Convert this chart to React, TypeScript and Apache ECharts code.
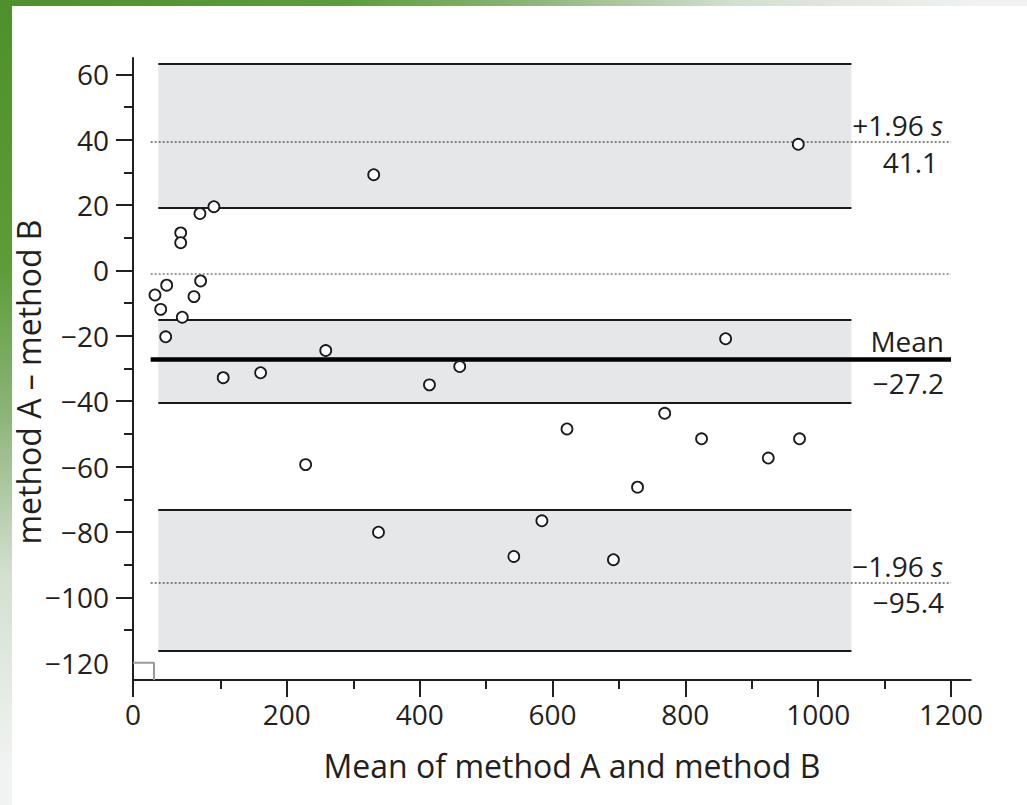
import React, { useEffect, useRef } from "react";
import * as echarts from "echarts";

// ---- data ----
const meanAB = [
  1.5, 19.1, 10.1, 42.6, 17.6, 60.2, 70.2, 40.2, 40.2, 69.2, 90.2, 104.2, 160.5,
  258.6, 330.8, 460.3, 414.7, 860.6, 768.9, 621.8, 824.4, 971.9, 924.8, 228.3,
  728.0, 584.0, 338.0, 541.7, 691.7, 970.0,
];
const diffAB = [
  -7.5, -4.5, -11.9, -14.3, -20.3, -8.0, -3.2, 11.5, 8.5, 17.4, 19.5, -32.8, -31.3,
  -24.5, 29.3, -29.4, -35.0, -20.9, -43.7, -48.5, -51.5, -51.5, -57.4, -59.4,
  -66.3, -76.6, -80.1, -87.5, -88.5, 38.6,
];

// confidence bands (lower, upper) for +1.96s, mean, -1.96s
const bandLower = [19.2, -40.5, -116.5];
const bandUpper = [63.3, -15.2, -73.2];
const bandStartX = 6.5;
const bandEndX = 1050;

// reference lines
const upperLoA = 39.3;
const meanDiff = -27.2;
const lowerLoA = -95.4;
const zeroRef = -1;
const refLineStart = -5;
const refLineEnd = 1200;

const upperLabel = "41.1";
const meanLabel = "−27.2";
const lowerLabel = "−95.4";

// axes
const xMin = -31.6;
const xMax = 1229.6;
const yMin = -125.3;
const yMax = 65;
const xMajorTicks = [200, 400, 600, 800, 1000, 1200];
const xMinorTicks = [100, 300, 500, 700, 900, 1100];
const yLabelTicks = [-120, -100, -80, -60, -40, -20, 0, 20, 40, 60];
const yMajorTicks = [-100, -80, -60, -40, -20, 0, 20, 40, 60];
const yMinorTicks = [-110, -90, -70, -50, -30, -10, 10, 30, 50];
const originBox = [
  [xMin, -120],
  [0, -120],
  [0, yMin],
];

const xTitle = "Mean of method A and method B";
const yTitle = "method A – method B";

const FONT = "Open Sans";
const INK = "#231f20";
const FS = 28;
const TITLE_FS = 32;

const fmtNum = (v: number) => (v < 0 ? "−" + Math.abs(v) : String(v));

export default function App() {
  const ref = useRef<HTMLDivElement>(null);

  useEffect(() => {
    document.body.style.margin = "0";
    if (!ref.current) return;
    const chart = echarts.init(ref.current, null, { renderer: "svg" });

    const hLine = (y: number, x1: number, x2: number) => [
      { coord: [x1, y] },
      { coord: [x2, y] },
    ];

    const labelBase = {
      color: INK,
      fontSize: FS,
      fontFamily: FONT,
      lineHeight: 30,
      rich: {
        i: { fontStyle: "italic", fontSize: FS, fontFamily: FONT, color: INK, lineHeight: 30 },
      },
    };
    const hidden = { color: "rgba(0,0,0,0)", width: 1, type: "solid" };

    const option: any = {
      animation: false,
      backgroundColor: "transparent",
      grid: {
        left: 133,
        top: 58,
        width: 837.7,
        height: 622,
        containLabel: false,
        outerBoundsMode: "none",
      },
      xAxis: [
        {
          type: "value",
          min: xMin,
          max: xMax,
          axisLine: { show: true, onZero: false, lineStyle: { color: INK, width: 2 } },
          axisTick: {
            show: true,
            customValues: [xMin, ...xMajorTicks],
            length: 17,
            lineStyle: { color: INK, width: 2 },
          },
          axisLabel: {
            show: true,
            customValues: [xMin, ...xMajorTicks],
            formatter: (v: number) => (v < 0 ? "0" : fmtNum(v)),
            color: INK,
            fontSize: FS,
            fontFamily: FONT,
            margin: 20,
          },
          splitLine: { show: false },
        },
        {
          type: "value",
          min: xMin,
          max: xMax,
          position: "bottom",
          axisLine: { show: false, onZero: false },
          axisTick: {
            show: true,
            customValues: xMinorTicks,
            length: 9,
            lineStyle: { color: INK, width: 2 },
          },
          axisLabel: { show: false },
          splitLine: { show: false },
        },
      ],
      yAxis: [
        {
          type: "value",
          min: yMin,
          max: yMax,
          axisLine: { show: true, onZero: false, lineStyle: { color: INK, width: 2 } },
          axisTick: {
            show: true,
            customValues: yMajorTicks,
            length: 17,
            lineStyle: { color: INK, width: 2 },
          },
          axisLabel: {
            show: true,
            customValues: yLabelTicks,
            formatter: fmtNum,
            color: INK,
            fontSize: FS,
            fontFamily: FONT,
            margin: 24,
          },
          splitLine: { show: false },
        },
        {
          type: "value",
          min: yMin,
          max: yMax,
          position: "left",
          axisLine: { show: false, onZero: false },
          axisTick: {
            show: true,
            customValues: yMinorTicks,
            length: 9,
            lineStyle: { color: INK, width: 2 },
          },
          axisLabel: { show: false },
          splitLine: { show: false },
        },
      ],
      graphic: [
        {
          type: "rect",
          z: -20,
          silent: true,
          shape: { x: 0, y: 0, width: 1027, height: 805 },
          style: {
            fill: new echarts.graphic.RadialGradient(0, 0, 0.95, [
              { offset: 0, color: "#4e8f2e" },
              { offset: 0.35, color: "#5c9c3a" },
              { offset: 0.55, color: "#8fb57d" },
              { offset: 0.75, color: "#d3dfd0" },
              { offset: 1, color: "#f0f3f1" },
            ]),
          },
        },
        {
          type: "rect",
          z: -19,
          silent: true,
          shape: { x: 12, y: 6, width: 1015, height: 799 },
          style: { fill: "#ffffff" },
        },
        {
          type: "text",
          z: 50,
          x: 572,
          y: 765,
          style: {
            text: xTitle,
            fontSize: TITLE_FS,
            fontFamily: FONT,
            fill: INK,
            align: "center",
            verticalAlign: "middle",
          },
        },
        {
          type: "text",
          z: 50,
          x: 28,
          y: 382,
          rotation: Math.PI / 2,
          style: {
            text: yTitle,
            fontSize: TITLE_FS,
            fontFamily: FONT,
            fill: INK,
            align: "center",
            verticalAlign: "middle",
          },
        },
      ],
      series: [
        {
          type: "line",
          data: [],
          silent: true,
          markArea: {
            silent: true,
            itemStyle: { color: "#e6e7e9" },
            data: bandLower.map((lo, i) => [
              { coord: [bandStartX, bandUpper[i]] },
              { coord: [bandEndX, lo] },
            ]),
          },
          markLine: {
            silent: true,
            symbol: "none",
            label: { show: false },
            lineStyle: { color: "#1a1a1a", width: 2, type: "solid" },
            data: [
              ...bandLower.map((y) => hLine(y, bandStartX, bandEndX)),
              ...bandUpper.map((y) => hLine(y, bandStartX, bandEndX)),
            ],
          },
        },
        {
          type: "line",
          data: [],
          silent: true,
          z: 3,
          markLine: {
            silent: true,
            symbol: "none",
            data: [
              [
                {
                  coord: [refLineStart, zeroRef],
                  lineStyle: { color: "#7a7a7a", width: 1.6, type: [2, 2] },
                  label: { show: false },
                },
                { coord: [refLineEnd, zeroRef] },
              ],
              [
                {
                  coord: [refLineStart, upperLoA],
                  lineStyle: { color: "#5e5e5e", width: 1.6, type: [2, 2] },
                  label: {
                    show: true,
                    position: "insideEndTop",
                    distance: [8, 2],
                    formatter: "+1.96 {i|s}",
                    ...labelBase,
                  },
                },
                { coord: [refLineEnd, upperLoA] },
              ],
              [
                {
                  coord: [refLineStart, upperLoA],
                  lineStyle: hidden,
                  label: {
                    show: true,
                    position: "insideEndBottom",
                    distance: [13, 5],
                    formatter: upperLabel,
                    ...labelBase,
                  },
                },
                { coord: [refLineEnd, upperLoA] },
              ],
              [
                {
                  coord: [refLineStart, meanDiff],
                  lineStyle: { color: "#000", width: 4.5, type: "solid" },
                  label: {
                    show: true,
                    position: "insideEndTop",
                    distance: [7, 3],
                    formatter: "Mean",
                    ...labelBase,
                  },
                },
                { coord: [refLineEnd, meanDiff] },
              ],
              [
                {
                  coord: [refLineStart, meanDiff],
                  lineStyle: hidden,
                  label: {
                    show: true,
                    position: "insideEndBottom",
                    distance: [7, 9],
                    formatter: meanLabel,
                    ...labelBase,
                  },
                },
                { coord: [refLineEnd, meanDiff] },
              ],
              [
                {
                  coord: [refLineStart, lowerLoA],
                  lineStyle: { color: "#5e5e5e", width: 1.6, type: [2, 2] },
                  label: {
                    show: true,
                    position: "insideEndTop",
                    distance: [8, 1],
                    formatter: "−1.96 {i|s}",
                    ...labelBase,
                  },
                },
                { coord: [refLineEnd, lowerLoA] },
              ],
              [
                {
                  coord: [refLineStart, lowerLoA],
                  lineStyle: hidden,
                  label: {
                    show: true,
                    position: "insideEndBottom",
                    distance: [7, 5],
                    formatter: lowerLabel,
                    ...labelBase,
                  },
                },
                { coord: [refLineEnd, lowerLoA] },
              ],
            ],
          },
        },
        {
          type: "line",
          data: originBox,
          symbol: "none",
          silent: true,
          z: 4,
          lineStyle: { color: "#9a9a9a", width: 2 },
        },
        {
          type: "scatter",
          z: 10,
          data: meanAB.map((x, i) => [x, diffAB[i]]),
          symbol: "circle",
          symbolSize: 11,
          itemStyle: { color: "#ffffff", borderColor: "#1a1a1a", borderWidth: 1.8, opacity: 1 },
        },
      ],
    };

    chart.setOption(option);
    return () => chart.dispose();
  }, []);

  return <div ref={ref} style={{ width: 1027, height: 805 }} />;
}
